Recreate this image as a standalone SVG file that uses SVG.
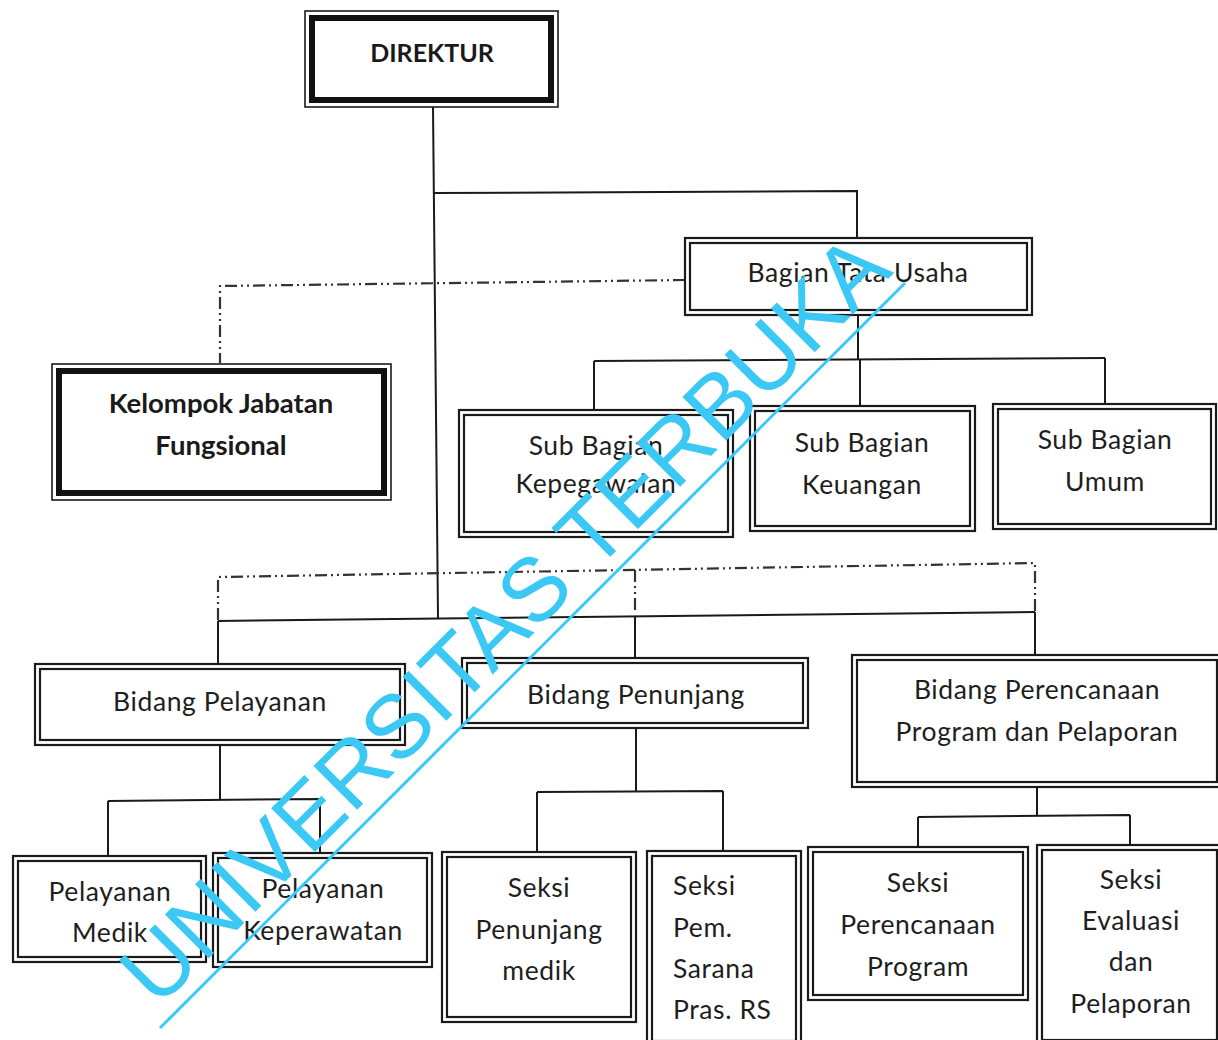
<svg xmlns="http://www.w3.org/2000/svg" width="1218" height="1040" viewBox="0 0 1218 1040">
<style>
.bg{fill:#ffffff}
.o{fill:none;stroke:#1a1a1a;stroke-width:2.2}
.i{fill:none;stroke:#1a1a1a;stroke-width:2.2}
.to{fill:none;stroke:#1a1a1a;stroke-width:1.6}
.ti{fill:none;stroke:#111;stroke-width:6}
.ln{fill:none;stroke:#1a1a1a;stroke-width:2}
.dd{fill:none;stroke:#333;stroke-width:2.2;stroke-dasharray:12 4 2 4 2 4}
.t{font-family:Lato,"Open Sans","Liberation Sans",sans-serif;font-size:26.5px;letter-spacing:0.6px;fill:#1e1e1e;text-anchor:middle}
.tl{text-anchor:start}
.b{font-weight:bold;font-size:25px;letter-spacing:0;fill:#1a1a1a}
.bk{font-size:27.5px}
.wm{font-family:"Liberation Sans",Arial,sans-serif;font-size:90px;fill:#3cc8f5;text-anchor:middle}
</style>
<rect class="bg" x="0" y="0" width="1218" height="1040"/>
<g id="connectors">
<path class="ln" d="M433,107 L438,618"/>
<path class="ln" d="M434,193 L857,191 L857,238"/>
<path class="ln" d="M858,315 L858,360"/>
<path class="ln" d="M594,361 L1105,358"/>
<path class="ln" d="M594,361 L594,412 M860,359 L860,407 M1105,358 L1105,405"/>
<path class="dd" d="M685,280 L220,286 L220,363"/>
<path class="dd" d="M218,620 L218,577 L1035,563 L1035,612"/>
<path class="dd" d="M635,570 L635,614"/>
<path class="ln" d="M218,621 L1035,612"/>
<path class="ln" d="M218,621 L218,666 M635,616 L635,660 M1035,612 L1035,657"/>
<path class="ln" d="M220,745 L220,800 M108,801 L320,799 M108,801 L108,858 M320,799 L320,855"/>
<path class="ln" d="M636,729 L636,791 M537,792 L723,791 M537,792 L537,853 M723,791 L723,852"/>
<path class="ln" d="M1037,787 L1037,816 M918,817 L1130,815 M918,817 L918,849 M1130,815 L1130,846"/>
</g>
<g id="direktur">
<rect class="bg" x="305" y="11" width="253" height="96"/>
<rect class="to" x="305" y="11" width="253" height="96"/>
<rect class="ti" x="312" y="18" width="239" height="82"/>
<text class="t b" x="432" y="62">DIREKTUR</text>
</g>
<g id="bagian-tata-usaha">
<rect class="bg" x="685" y="238" width="347" height="77"/>
<rect class="o" x="685" y="238" width="347" height="77"/>
<rect class="i" x="690" y="243" width="337" height="67"/>
<text class="t" x="858" y="282">Bagian Tata Usaha</text>
</g>
<g id="kelompok-jabatan-fungsional">
<rect class="bg" x="52" y="364" width="339" height="136"/>
<rect class="to" x="52" y="364" width="339" height="136"/>
<rect class="ti" x="59" y="371" width="325" height="122"/>
<text class="t b bk" x="221" y="413">Kelompok Jabatan</text>
<text class="t b bk" x="221" y="455">Fungsional</text>
</g>
<g id="sub-bagian-kepegawaian">
<rect class="bg" x="459" y="410" width="274" height="127"/>
<rect class="o" x="459" y="410" width="274" height="127"/>
<rect class="i" x="464" y="415" width="264" height="117"/>
<text class="t" x="596" y="455">Sub Bagian</text>
<text class="t" x="596" y="493">Kepegawaian</text>
</g>
<g id="sub-bagian-keuangan">
<rect class="bg" x="750" y="406" width="225" height="125"/>
<rect class="o" x="750" y="406" width="225" height="125"/>
<rect class="i" x="755" y="411" width="215" height="115"/>
<text class="t" x="862" y="452">Sub Bagian</text>
<text class="t" x="862" y="494">Keuangan</text>
</g>
<g id="sub-bagian-umum">
<rect class="bg" x="993" y="404" width="223" height="125"/>
<rect class="o" x="993" y="404" width="223" height="125"/>
<rect class="i" x="998" y="409" width="213" height="115"/>
<text class="t" x="1105" y="449">Sub Bagian</text>
<text class="t" x="1105" y="491">Umum</text>
</g>
<g id="bidang-pelayanan">
<rect class="bg" x="35" y="664" width="370" height="81"/>
<rect class="o" x="35" y="664" width="370" height="81"/>
<rect class="i" x="40" y="669" width="360" height="71"/>
<text class="t" x="220" y="711">Bidang Pelayanan</text>
</g>
<g id="bidang-penunjang">
<rect class="bg" x="462" y="658" width="346" height="70"/>
<rect class="o" x="462" y="658" width="346" height="70"/>
<rect class="i" x="467" y="663" width="336" height="60"/>
<text class="t" x="636" y="704">Bidang Penunjang</text>
</g>
<g id="bidang-perencanaan">
<rect class="bg" x="852" y="655" width="370" height="132"/>
<rect class="o" x="852" y="655" width="370" height="132"/>
<rect class="i" x="857" y="660" width="360" height="122"/>
<text class="t" x="1037" y="699">Bidang Perencanaan</text>
<text class="t" x="1037" y="741">Program dan Pelaporan</text>
</g>
<g id="pelayanan-medik">
<rect class="bg" x="13" y="856" width="193" height="106"/>
<rect class="o" x="13" y="856" width="193" height="106"/>
<rect class="i" x="18" y="861" width="183" height="96"/>
<text class="t" x="110" y="901">Pelayanan</text>
<text class="t" x="110" y="942">Medik</text>
</g>
<g id="pelayanan-keperawatan">
<rect class="bg" x="213" y="853" width="219" height="114"/>
<rect class="o" x="213" y="853" width="219" height="114"/>
<rect class="i" x="218" y="858" width="209" height="104"/>
<text class="t" x="323" y="898">Pelayanan</text>
<text class="t" x="323" y="940">Keperawatan</text>
</g>
<g id="seksi-penunjang-medik">
<rect class="bg" x="442" y="852" width="194" height="170"/>
<rect class="o" x="442" y="852" width="194" height="170"/>
<rect class="i" x="447" y="857" width="184" height="160"/>
<text class="t" x="539" y="897">Seksi</text>
<text class="t" x="539" y="939">Penunjang</text>
<text class="t" x="539" y="980">medik</text>
</g>
<g id="seksi-pem-sarana">
<rect class="bg" x="647" y="851" width="154" height="195"/>
<rect class="o" x="647" y="851" width="154" height="195"/>
<rect class="i" x="652" y="856" width="144" height="185"/>
<text class="t tl" x="673" y="895">Seksi</text>
<text class="t tl" x="673" y="937">Pem.</text>
<text class="t tl" x="673" y="978">Sarana</text>
<text class="t tl" x="673" y="1019">Pras. RS</text>
</g>
<g id="seksi-perencanaan-program">
<rect class="bg" x="808" y="847" width="220" height="153"/>
<rect class="o" x="808" y="847" width="220" height="153"/>
<rect class="i" x="813" y="852" width="210" height="143"/>
<text class="t" x="918" y="892">Seksi</text>
<text class="t" x="918" y="934">Perencanaan</text>
<text class="t" x="918" y="976">Program</text>
</g>
<g id="seksi-evaluasi">
<rect class="bg" x="1037" y="845" width="185" height="200"/>
<rect class="o" x="1037" y="845" width="185" height="200"/>
<rect class="i" x="1042" y="850" width="175" height="190"/>
<text class="t" x="1131" y="889">Seksi</text>
<text class="t" x="1131" y="930">Evaluasi</text>
<text class="t" x="1131" y="971">dan</text>
<text class="t" x="1131" y="1013">Pelaporan</text>
</g>
<g id="watermark">
<text class="wm" x="526" y="641" transform="rotate(-45 526 641)">UNIVERSITAS TERBUKA</text>
<path d="M160,1028 L905,283" fill="none" stroke="#3cc8f5" stroke-width="3"/>
</g>
</svg>
